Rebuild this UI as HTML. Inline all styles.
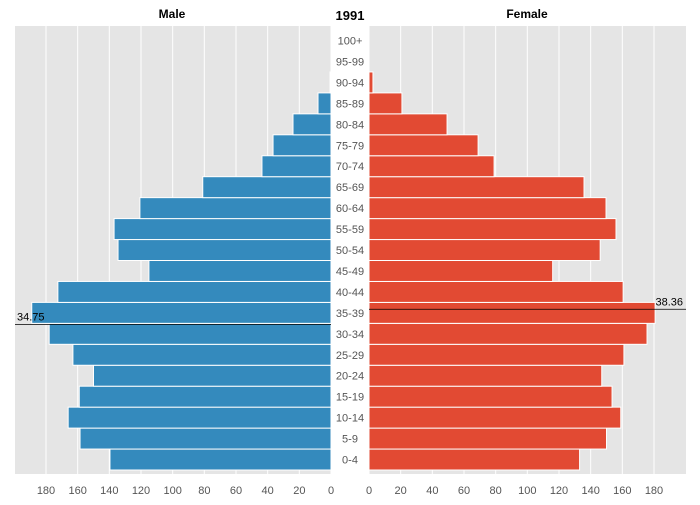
<!DOCTYPE html>
<html><head><meta charset="utf-8"><style>
body{margin:0;background:#fff;font-family:"Liberation Sans",sans-serif}
svg text{font-family:"Liberation Sans",sans-serif}
</style></head><body>
<svg id="c" width="700" height="500" xmlns="http://www.w3.org/2000/svg"></svg>
<script>
const ages=["0-4","5-9","10-14","15-19","20-24","25-29","30-34","35-39","40-44","45-49","50-54","55-59","60-64","65-69","70-74","75-79","80-84","85-89","90-94","95-99","100+"];
const male=[139.6,158.5,166,159,150,163,178,189,172.5,115,134.5,137,120.7,81,43.6,36.6,24,8.2,0.6,0,0];
const female=[133,150,159,153.5,147,161,175.6,180.7,160.5,116,146,156,149.7,135.8,79,68.9,49.3,20.8,2.5,0,0];
const ticks=[0,20,40,60,80,100,120,140,160,180];
const medianMale=34.75, medianFemale=38.36;
const title="1991";
const NS="http://www.w3.org/2000/svg";
const svgRoot=document.getElementById('c');
function el(tag,a){const e=document.createElementNS(NS,tag);for(const key in a)e.setAttribute(key,a[key]);svgRoot.appendChild(e);return e;}
const kScale=285/180, plotTop=26, plotBot=474, band=20.95, base=470;
const xL=v=>331-v*kScale, xR=v=>369+v*kScale;
const yAge=a=>base-a/5*band;
let p=el('rect',{x:15,y:plotTop,width:316,height:plotBot-plotTop,fill:'#e5e5e5'});


p=el('rect',{x:369,y:plotTop,width:317,height:plotBot-plotTop,fill:'#e5e5e5'});


ticks.forEach(tk=>{
 let g=el('line',{x1:xL(tk),x2:xL(tk),y1:plotTop,y2:plotBot,stroke:'#fff','stroke-width':1});
 
 
 g=el('line',{x1:xR(tk),x2:xR(tk),y1:plotTop,y2:plotBot,stroke:'#fff','stroke-width':1});
 
 
 let tx=el('text',{x:xL(tk),y:494,'text-anchor':'middle','font-size':11,fill:'#555'});tx.textContent=tk;
 
 
 tx=el('text',{x:xR(tk),y:494,'text-anchor':'middle','font-size':11,fill:'#555'});tx.textContent=tk;
 
 
});
ages.forEach((a,i)=>{
 const y0=base-(i+1)*band;
 let r=el('rect',{x:xL(male[i]),y:y0,width:male[i]*kScale,height:band,fill:'#348abd',stroke:'#fff','stroke-width':1});
 
 
 r=el('rect',{x:369,y:y0,width:female[i]*kScale,height:band,fill:'#e24a33',stroke:'#fff','stroke-width':1});
 
 
 let lb=el('text',{x:350,y:y0+band/2+4,'text-anchor':'middle','font-size':11,fill:'#555'});lb.textContent=a;
 
 
});
let ym=yAge(medianMale);
let ln=el('line',{x1:15,x2:331,y1:ym,y2:ym,stroke:'#000','stroke-width':0.8});


let tt=el('text',{x:17,y:ym-4,'font-size':11,fill:'#000'});tt.textContent=medianMale.toFixed(2);


let yf=yAge(medianFemale);
ln=el('line',{x1:369,x2:686,y1:yf,y2:yf,stroke:'#000','stroke-width':0.8});


tt=el('text',{x:683,y:yf-4,'font-size':11,fill:'#000','text-anchor':'end'});tt.textContent=medianFemale.toFixed(2);


tt=el('text',{x:172,y:18,'font-size':12,'font-weight':'bold','text-anchor':'middle'});tt.textContent='Male';


tt=el('text',{x:527,y:18,'font-size':12,'font-weight':'bold','text-anchor':'middle'});tt.textContent='Female';


tt=el('text',{x:350,y:20,'font-size':13,'font-weight':'bold','text-anchor':'middle'});tt.textContent=title;


</script>
</body></html>
